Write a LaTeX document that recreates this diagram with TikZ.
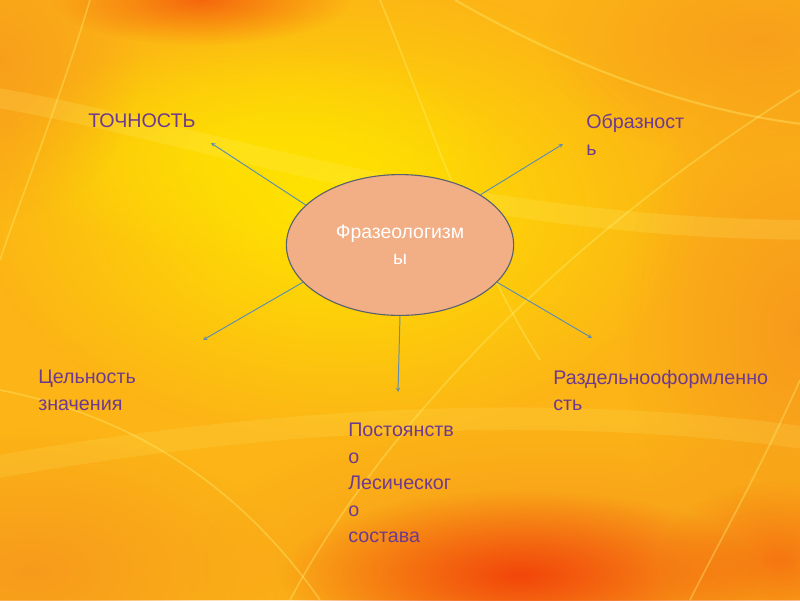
\documentclass[tikz,border=0pt]{standalone}
\usepackage{fontspec}
\setmainfont{Liberation Sans}
\usetikzlibrary{arrows.meta,fadings,shapes.geometric}
\tikzfading[name=softspot, inner color=transparent!0, outer color=transparent!100]
\definecolor{bgbase}{HTML}{FCB416}
\definecolor{bgorange}{HTML}{F79A1C}
\definecolor{bgyellow}{HTML}{FFE500}
\definecolor{bgred}{HTML}{F2460A}
\definecolor{streakcol}{HTML}{FFF27A}
\definecolor{labelpurple}{HTML}{6E3A8E}
\definecolor{ellfill}{HTML}{F2AE84}
\definecolor{ellline}{HTML}{5A6270}
\definecolor{linkblue}{HTML}{5E8FB0}
\tikzset{
  x=0.025cm, y=-0.025cm,
  lbl/.style={anchor=north west, inner sep=0pt, align=left, text=labelpurple,
    font=\fontsize{14}{18.8}\selectfont},
  hub/.style={ellipse, draw=ellline, line width=0.8pt, fill=ellfill,
    minimum width=5.68cm, minimum height=3.52cm, text=white, align=center,
    font=\fontsize{13.8}{18.3}\selectfont},
  link/.style={draw=linkblue, line width=0.7pt, -{Stealth[length=3pt,width=3pt]}},
  streak/.style={streakcol, opacity=0.35, line width=#1},
}
\begin{document}
\begin{tikzpicture}
\useasboundingbox (0,0) rectangle (800,600);
% background
\fill[bgbase] (0,0) rectangle (800,600);
\begin{scope}
\clip (0,0) rectangle (800,600);
\fill[bgyellow, path fading=softspot] (340,210) ellipse (360 and 230);
\fill[bgyellow, opacity=0.7, path fading=softspot] (250,150) ellipse (250 and 110);
\fill[bgorange, path fading=softspot] (800,330) ellipse (180 and 260);
\fill[bgorange, opacity=0.8, path fading=softspot] (760,40) ellipse (220 and 120);
\fill[bgorange, path fading=softspot] (30,570) ellipse (260 and 140);
\fill[bgorange, opacity=0.8, path fading=softspot] (0,60) ellipse (140 and 160);
\fill[bgred, opacity=0.7, path fading=softspot] (200,0) ellipse (150 and 45);
\fill[bgorange, path fading=softspot] (560,560) ellipse (380 and 140);
\fill[bgred, path fading=softspot] (520,575) ellipse (240 and 85);
\fill[bgred, opacity=0.5, path fading=softspot] (780,560) ellipse (120 and 80);
% streaks
\draw[streak=1.5pt] (455,0) .. controls (560,60) and (680,110) .. (810,125);
\draw[streakcol, opacity=0.18, line width=14pt] (-20,95) .. controls (200,130) and (450,230) .. (820,230);
\draw[streak=1.2pt] (90,0) .. controls (60,100) and (20,200) .. (0,260);
\draw[streak=1.2pt] (380,0) .. controls (430,120) and (470,250) .. (540,360);
\draw[streak=1.2pt] (0,390) .. controls (150,420) and (250,500) .. (320,600);
\draw[streak=1.2pt] (290,600) .. controls (380,430) and (560,240) .. (800,90);
\draw[streakcol, opacity=0.15, line width=16pt] (-20,470) .. controls (250,420) and (550,400) .. (820,440);
\draw[streak=1.2pt] (800,380) .. controls (760,470) and (720,540) .. (690,600);
\end{scope}
% hub
\node[hub] (hub) at (400,245) {Фразеологизм\\ы};
% labels
\node[lbl] (t1) at (88,113) {ТОЧНОСТЬ};
\node[lbl] (t2) at (586,114) {Образност\\ь};
\node[lbl] (t3) at (38,370) {Цельность\\значения};
\node[lbl] (t4) at (553,370) {Раздельнооформленно\\сть};
\node[lbl] (t5) at (348,423) {Постоянств\\о\\Лесическог\\о\\состава};
% link end points
\coordinate (e1) at (211,143);
\coordinate (e2) at (563,144);
\coordinate (e3) at (203,340);
\coordinate (e4) at (398,392);
\coordinate (e5) at (592,338);
\draw[link] (hub.157) -- (e1);
\draw[link] (hub.32) -- (e2);
\draw[link] (hub.201) -- (e3);
\draw[link] (hub.south) -- (e4);
\draw[link] (hub.339) -- (e5);
\end{tikzpicture}
\end{document}
